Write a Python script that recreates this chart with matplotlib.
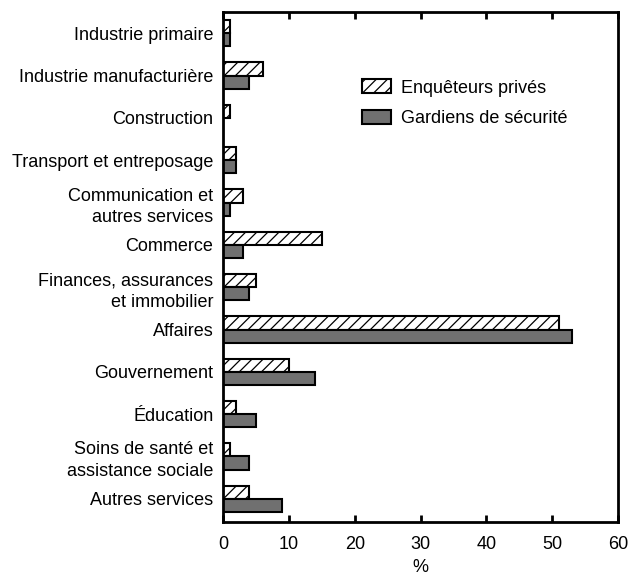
import numpy as np
import matplotlib
matplotlib.use("Agg")
import matplotlib.pyplot as plt

plt.rcParams['font.family'] = ['Liberation Sans', 'DejaVu Sans']
plt.rcParams['hatch.linewidth'] = 0.9

categories = [
    "Industrie primaire",
    "Industrie manufacturière",
    "Construction",
    "Transport et entreposage",
    "Communication et\nautres services",
    "Commerce",
    "Finances, assurances\net immobilier",
    "Affaires",
    "Gouvernement",
    "Éducation",
    "Soins de santé et\nassistance sociale",
    "Autres services",
]
enqueteurs = [1, 6, 1, 2, 3, 15, 5, 51, 10, 2, 1, 4]
gardiens = [1, 4, 0, 2, 1, 3, 4, 53, 14, 5, 4, 9]
x_ticks = [0, 10, 20, 30, 40, 50, 60]

fig = plt.figure(figsize=(6.3, 5.75), dpi=100)
ax = fig.add_axes([0.354, 0.092, 0.627, 0.887])

y = np.arange(len(categories))
h = 0.31
ax.barh(y - h / 2, enqueteurs, height=h, color='white', edgecolor='black',
        hatch='///', linewidth=1.5, label="Enquêteurs privés")
ax.barh(y + h / 2, gardiens, height=h, color='#707070', edgecolor='black',
        linewidth=1.5, label="Gardiens de sécurité")

ax.set_ylim(len(categories) - 0.45, -0.5)
ax.set_xlim(0, 60)
ax.set_xticks(x_ticks)
ax.set_yticks(y)
ax.set_yticklabels(categories, fontsize=13, linespacing=1.35)
ax.tick_params(axis='y', length=0, pad=7)
ax.tick_params(axis='x', direction='in', length=5, width=2, top=True,
               labelsize=13, pad=10)
for sp in ax.spines.values():
    sp.set_linewidth(2)
ax.set_xlabel("%", fontsize=13, labelpad=4)

ax.legend(loc='upper left', bbox_to_anchor=(0.31, 0.9), frameon=False,
          fontsize=13, handlelength=1.6, handleheight=0.8, labelspacing=0.75,
          handletextpad=0.55)

fig.savefig("out.png", dpi=100)
